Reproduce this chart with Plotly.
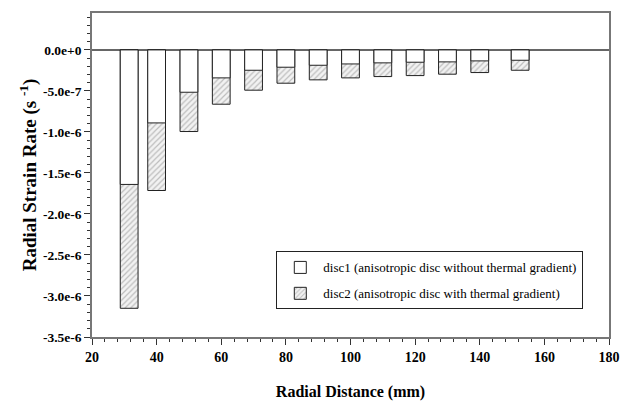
import plotly.graph_objects as go

radial_distance = [31.5, 40, 50, 60, 70, 80, 90, 100, 110, 120, 130, 140, 152.5]
disc1 = [-1.64e-6, -0.89e-6, -0.516e-6, -0.341e-6, -0.248e-6, -0.211e-6, -0.187e-6,
         -0.171e-6, -0.158e-6, -0.150e-6, -0.146e-6, -0.134e-6, -0.126e-6]
disc2 = [-3.15e-6, -1.714e-6, -0.995e-6, -0.662e-6, -0.491e-6, -0.406e-6, -0.365e-6,
         -0.341e-6, -0.325e-6, -0.313e-6, -0.296e-6, -0.276e-6, -0.248e-6]
y_tick_vals = [0, -5e-7, -1e-6, -1.5e-6, -2e-6, -2.5e-6, -3e-6, -3.5e-6]
y_tick_text = ["0.0e+0", "-5.0e-7", "-1.0e-6", "-1.5e-6", "-2.0e-6", "-2.5e-6", "-3.0e-6", "-3.5e-6"]
x_tick_vals = [20, 40, 60, 80, 100, 120, 140, 160, 180]
x_tick_text = ["20", "40", "60", "80", "100", "120", "140", "160", "180"]

serif = "Liberation Serif, Times New Roman, serif"

fig = go.Figure()
fig.add_trace(go.Bar(
    x=radial_distance, y=disc2, width=5.5,
    name="disc2 (anisotropic disc with thermal gradient)",
    legendrank=2, legendgroup="d2",
    marker=dict(color="white", line=dict(color="#222", width=1),
                pattern=dict(shape="/", size=4, solidity=0.3, fgcolor="#888", bgcolor="#f2f2f2")),
))
fig.add_trace(go.Bar(
    x=radial_distance, y=disc1, width=5.5,
    name="disc1 (anisotropic disc without thermal gradient)",
    legendrank=1, legendgroup="d1",
    marker=dict(color="white", line=dict(color="#222", width=1)),
))

fig.update_layout(
    width=623, height=395,
    barmode="overlay",
    plot_bgcolor="white", paper_bgcolor="white",
    margin=dict(l=84, r=22, t=5, b=66, autoexpand=False),
    font=dict(family=serif, color="black"),
    legend=dict(x=0.3565, y=0.264, xanchor="left", yanchor="top",
                bordercolor="#222", borderwidth=1, bgcolor="white",
                font=dict(family=serif, size=13), tracegroupgap=6,
                itemwidth=36),
    showlegend=True,
)
fig.update_xaxes(
    range=[20, 180], tickvals=x_tick_vals, ticktext=["<b>%s</b>" % t for t in x_tick_text],
    showline=True, linecolor="#777", linewidth=1.5, mirror=True,
    ticks="outside", ticklen=6, tickcolor="#333", tickwidth=1,
    minor=dict(dtick=4, ticks="outside", ticklen=3, tickcolor="#333"),
    showgrid=False, zeroline=False, automargin=False,
    tickfont=dict(family=serif, size=14),
    title=dict(text="<b>Radial Distance (mm)</b>", font=dict(family=serif, size=16), standoff=22),
)
fig.update_yaxes(
    range=[-3.5e-6, 4.5e-7], tickvals=y_tick_vals, ticktext=["<b>%s</b>" % t for t in y_tick_text],
    showline=True, linecolor="#777", linewidth=1.5, mirror=True,
    ticks="outside", ticklen=6, tickcolor="#333", tickwidth=1,
    minor=dict(dtick=1e-7, ticks="outside", ticklen=3, tickcolor="#333"),
    showgrid=False, zeroline=True, zerolinecolor="#666", zerolinewidth=1.5, automargin=False,
    tickfont=dict(family=serif, size=13.5),
    title=dict(text="<b>Radial Strain Rate (s <sup>-1</sup>)</b>", font=dict(family=serif, size=19), standoff=1),
)

fig.write_html("out.html")
